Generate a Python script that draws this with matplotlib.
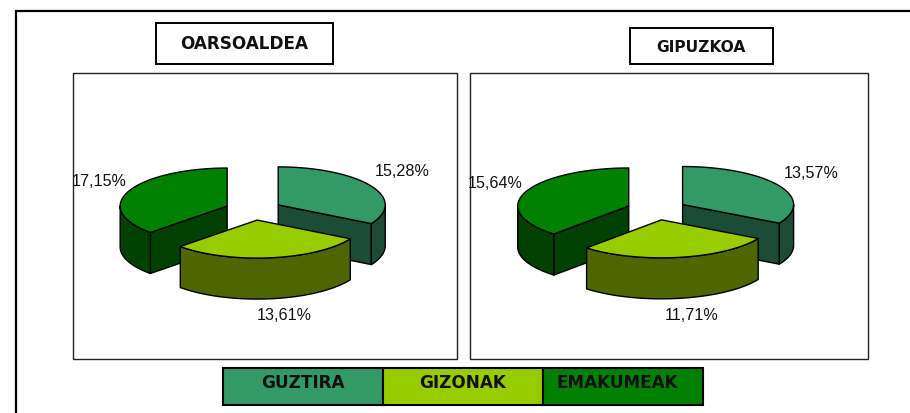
import numpy as np
import matplotlib
matplotlib.use("Agg")
import matplotlib.pyplot as plt
from matplotlib.patches import Polygon, Rectangle

# values as printed on the charts, clockwise from 12 o'clock
SERIES = ["GUZTIRA", "GIZONAK", "EMAKUMEAK"]
REGIONS = ["OARSOALDEA", "GIPUZKOA"]
OARSOALDEA = [15.28, 13.61, 17.15]
GIPUZKOA = [13.57, 11.71, 15.64]

TOP_COLORS = ["#339966", "#99cc00", "#008000"]
SIDE_COLORS = ["#1a4d33", "#4d6600", "#004000"]

W, H = 910, 413
DEPTH = 41


def rim(cx, cy, rx, ry, a0, a1):
    # a0/a1 in degrees, clockwise from top
    a = np.radians(np.linspace(a0, a1, max(int(abs(a1 - a0)), 2)))
    return np.column_stack([cx + rx * np.sin(a), cy - ry * np.cos(a)])


def draw_pie(ax, values, cx, cy, rx, ry, explode):
    values = np.array(values)
    angles = np.concatenate([[0], np.cumsum(values) / values.sum() * 360])
    apexes = []
    for i in range(3):
        mid = np.radians((angles[i] + angles[i + 1]) / 2)
        apexes.append((cx + explode * np.sin(mid), cy - explode * ry / rx * np.cos(mid)))

    # back slices first, the front one last
    for i in [0, 2, 1]:
        a0, a1 = angles[i], angles[i + 1]
        ax_, ay_ = apexes[i]
        kw = dict(ec="black", lw=1.0, joinstyle="round")

        # flat cut faces that look towards the viewer
        if i == 0:
            end = rim(ax_, ay_, rx, ry, a1, a1)[0]
            face = [(ax_, ay_), end, (end[0], end[1] + DEPTH), (ax_, ay_ + DEPTH)]
            ax.add_patch(Polygon(face, fc=SIDE_COLORS[i], **kw))
        if i == 2:
            start = rim(ax_, ay_, rx, ry, a0, a0)[0]
            face = [(ax_, ay_), start, (start[0], start[1] + DEPTH), (ax_, ay_ + DEPTH)]
            ax.add_patch(Polygon(face, fc=SIDE_COLORS[i], **kw))

        # outer wall, only the front half of the rim shows
        w0, w1 = max(a0, 90), min(a1, 270)
        if w1 > w0:
            edge = rim(ax_, ay_, rx, ry, w0, w1)
            wall = np.vstack([edge, edge[::-1] + [0, DEPTH]])
            ax.add_patch(Polygon(wall, fc=SIDE_COLORS[i], **kw))

        top = np.vstack([[ax_, ay_], rim(ax_, ay_, rx, ry, a0, a1)])
        ax.add_patch(Polygon(top, fc=TOP_COLORS[i], **kw))


def value_label(ax, v, x, y):
    ax.text(x, y, f"{v:.2f}%".replace(".", ","), ha="center", va="center",
            fontsize=11.6, family="Liberation Sans", color="#111111")


def label_box(ax, x0, y0, x1, y1, fc="white", lw=1.4, ec="black"):
    ax.add_patch(Rectangle((x0, y0), x1 - x0, y1 - y0, fc=fc, ec=ec, lw=lw))


fig = plt.figure(figsize=(W / 100, H / 100), dpi=100)
ax = fig.add_axes([0, 0, 1, 1])
ax.set_xlim(0, W)
ax.set_ylim(H, 0)
ax.axis("off")

# outer frame, open on the right and at the bottom
ax.plot([15.5, 15.5, W], [H, 10.5, 10.5], color="black", lw=1.6, solid_joinstyle="miter")

label_box(ax, 73, 72.5, 457, 359, lw=1.0, ec="#222222")
label_box(ax, 470, 72.5, 868, 359, lw=1.0, ec="#222222")

draw_pie(ax, OARSOALDEA, 253.5, 210, 107, 38, 28.6)
draw_pie(ax, GIPUZKOA, 656.7, 209.7, 111, 38, 30)

for v, (x, y) in zip(OARSOALDEA, [(402, 171), (284, 316), (99, 181)]):
    value_label(ax, v, x, y)
for v, (x, y) in zip(GIPUZKOA, [(811, 173), (692, 315), (495, 184)]):
    value_label(ax, v, x, y)

# region titles
label_box(ax, 156, 22.5, 333, 63.5)
label_box(ax, 630, 28, 773, 64)
ax.text(244.5, 44, REGIONS[0], ha="center", va="center", fontsize=12.2,
        family="DejaVu Sans", weight="bold", color="#111111")
ax.text(701, 47, REGIONS[1], ha="center", va="center", fontsize=11.2,
        family="DejaVu Sans", weight="bold", color="#111111")

# legend strip
edges = [223, 383, 543, 703]
name_x = [303, 462.5, 617]
for i, name in enumerate(SERIES):
    label_box(ax, edges[i], 368, edges[i + 1], 405, fc=TOP_COLORS[i], lw=1.5)
    ax.text(name_x[i], 383.5, name, ha="center", va="center",
            fontsize=12.2, family="DejaVu Sans", weight="bold", color="#101010")

fig.savefig("out.png", dpi=100)
